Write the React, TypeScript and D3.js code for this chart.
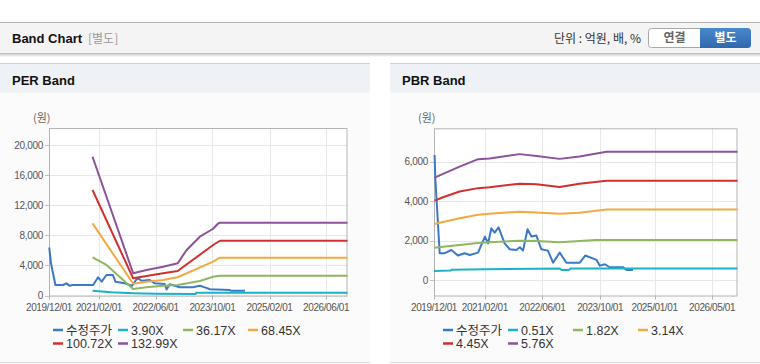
import React from 'react';
import * as d3 from 'd3';

type Pt = [string, number];

const perXTicks = ["2019-12-01", "2021-02-01", "2022-06-01", "2023-10-01", "2025-02-01", "2026-06-01"];
const pbrXTicks = ["2019-12-01", "2021-02-01", "2022-06-01", "2023-10-01", "2025-01-01", "2026-05-01"];
const perYTicks = [0, 4000, 8000, 12000, 16000, 20000];
const pbrYTicks = [0, 2000, 4000, 6000];
const perLegend = ["수정주가", "3.90X", "36.17X", "68.45X", "100.72X", "132.99X"];
const pbrLegend = ["수정주가", "0.51X", "1.82X", "3.14X", "4.45X", "5.76X"];
const seriesColors = ["#3b78c8", "#1cb2c6", "#8fb75e", "#f2a93f", "#d1302c", "#8d529b"];

// PER band chart
const perPrice: Pt[] = [
  ["2019-12-03", 6400], ["2019-12-18", 4300], ["2020-01-25", 1400], ["2020-03-30", 1400],
  ["2020-04-28", 1620], ["2020-05-25", 1310], ["2020-06-20", 1400], ["2020-12-13", 1400],
  ["2021-01-25", 2430], ["2021-02-24", 1840], ["2021-04-06", 2730], ["2021-06-01", 2730],
  ["2021-06-22", 1840], ["2021-09-10", 1620], ["2021-11-12", 1310], ["2021-12-20", 2160],
  ["2022-01-03", 2290], ["2022-02-01", 1970], ["2022-04-12", 2070], ["2022-05-25", 1620],
  ["2022-08-18", 1530], ["2022-09-03", 820], ["2022-10-01", 1490], ["2022-12-25", 1090],
  ["2023-04-15", 1090], ["2023-06-15", 1310], ["2023-07-28", 1090], ["2023-09-10", 830],
  ["2024-02-28", 730], ["2024-03-06", 640], ["2024-07-06", 640],
];
const perBand1: Pt[] = [
  ["2020-12-08", 640], ["2021-05-18", 420], ["2021-11-21", 290], ["2022-06-01", 220],
  ["2023-05-10", 200], ["2023-05-15", 370], ["2026-12-01", 370],
];
const perBand2: Pt[] = [
  ["2020-12-08", 5090], ["2021-04-06", 4070], ["2021-11-21", 870], ["2022-03-15", 1090],
  ["2022-08-04", 1310], ["2022-12-07", 1400], ["2023-06-15", 1930], ["2023-10-07", 2510],
  ["2023-12-04", 2640], ["2026-12-01", 2640],
];
const perBand3: Pt[] = [
  ["2020-12-08", 9620], ["2021-11-21", 1560], ["2022-03-15", 1840], ["2022-08-04", 2070],
  ["2022-12-07", 2430], ["2023-10-07", 4510], ["2023-12-04", 5040], ["2026-12-01", 5040],
];
const perBand4: Pt[] = [
  ["2020-12-08", 14070], ["2021-11-21", 2290], ["2022-03-15", 2600], ["2022-08-04", 2960],
  ["2022-12-07", 3270], ["2023-10-07", 6730], ["2023-12-04", 7300], ["2026-12-01", 7300],
];
const perBand5: Pt[] = [
  ["2020-12-08", 18500], ["2021-11-21", 2960], ["2022-03-15", 3400], ["2022-08-04", 3840],
  ["2022-12-07", 4290], ["2023-02-22", 6070], ["2023-06-15", 7840], ["2023-10-07", 8900],
  ["2023-11-19", 9600], ["2023-12-04", 9700], ["2026-12-01", 9700],
];

// PBR band chart
const pbrPrice: Pt[] = [
  ["2019-12-06", 6340], ["2019-12-12", 5160], ["2020-01-18", 1370], ["2020-03-01", 1370],
  ["2020-04-25", 1530], ["2020-06-20", 1250], ["2020-08-15", 1370], ["2020-09-28", 1280],
  ["2020-12-06", 1400], ["2021-02-02", 2210], ["2021-03-01", 1870], ["2021-03-28", 2630],
  ["2021-04-25", 2410], ["2021-05-28", 2680], ["2021-07-18", 1870], ["2021-08-30", 1570],
  ["2021-10-25", 1530], ["2021-11-23", 1670], ["2021-12-20", 1500], ["2022-01-27", 2580],
  ["2022-03-01", 2210], ["2022-04-12", 2260], ["2022-05-23", 1570], ["2022-07-18", 1500],
  ["2022-08-30", 890], ["2022-10-25", 1400], ["2022-12-20", 890], ["2023-04-12", 890],
  ["2023-05-28", 1250], ["2023-09-01", 1030], ["2023-09-28", 740], ["2023-11-10", 810],
  ["2023-12-20", 660], ["2024-04-12", 660], ["2024-05-10", 520], ["2024-07-03", 520],
];
const pbrBand1: Pt[] = [
  ["2019-12-01", 470], ["2020-04-20", 490], ["2020-04-25", 530], ["2021-02-10", 560],
  ["2022-10-25", 600], ["2022-11-10", 520], ["2023-01-10", 520], ["2023-01-25", 600],
  ["2026-12-01", 600],
];
const pbrBand2: Pt[] = [
  ["2019-12-06", 1650], ["2020-02-15", 1700], ["2020-07-04", 1790], ["2020-12-07", 1880],
  ["2021-03-13", 1920], ["2021-11-22", 2005], ["2022-04-12", 1990], ["2022-10-25", 1920],
  ["2023-04-10", 1990], ["2023-08-25", 2040], ["2026-12-01", 2040],
];
const pbrBand3: Pt[] = [
  ["2019-12-06", 2850], ["2020-02-15", 2950], ["2020-07-04", 3140], ["2020-12-07", 3310],
  ["2021-03-13", 3360], ["2021-11-22", 3470], ["2022-04-12", 3430], ["2022-10-25", 3360],
  ["2023-04-10", 3410], ["2023-11-24", 3580], ["2026-12-01", 3580],
];
const pbrBand4: Pt[] = [
  ["2019-12-06", 4030], ["2020-02-15", 4200], ["2020-07-04", 4490], ["2020-12-07", 4660],
  ["2021-03-13", 4710], ["2021-11-22", 4880], ["2022-04-12", 4860], ["2022-10-25", 4720],
  ["2023-04-10", 4880], ["2023-11-24", 5030], ["2026-12-01", 5030],
];
const pbrBand5: Pt[] = [
  ["2019-12-06", 5195], ["2020-02-15", 5380], ["2020-07-04", 5750], ["2020-12-07", 6125],
  ["2021-03-13", 6160], ["2021-11-22", 6380], ["2022-04-12", 6290], ["2022-10-25", 6140],
  ["2023-04-10", 6260], ["2023-11-24", 6500], ["2026-12-01", 6500],
];

const X_START = "2019-12-01";
const X_END = "2026-12-01";

const FONT = '"Liberation Sans", Arial, "Noto Sans CJK KR", sans-serif';
const KFONT = '"Noto Sans CJK KR", "Liberation Sans", sans-serif';

const parse = (s: string) => new Date(s + "T00:00:00Z");

interface PanelProps {
  px: number;
  title: string;
  plot: { l: number; r: number; t: number; b: number };
  yDomain: [number, number];
  yTicks: number[];
  xTicks: string[];
  series: Pt[][];
  legend: string[];
  legendX0: number;
}

function Panel({ px, title, plot, yDomain, yTicks, xTicks, series, legend, legendX0 }: PanelProps) {
  const x = d3.scaleUtc().domain([parse(X_START), parse(X_END)]).range([plot.l, plot.r]);
  const y = d3.scaleLinear().domain(yDomain).range([plot.b, plot.t]);
  const line = d3
    .line<Pt>()
    .x((d) => x(parse(d[0])))
    .y((d) => y(d[1]));
  const fmt = d3.format(",");
  const legendPos = [
    [0, 0], [65, 0], [130, 0], [195, 0], [0, 1], [65, 1],
  ];
  return (
    <g>
      {/* panel */}
      <rect x={px} y={64} width={370} height={298} fill="#fbfbfb" />
      <rect x={px} y={64} width={370} height={28.5} fill="#eef1f6" />
      <line x1={px} x2={px + 370} y1={63.5} y2={63.5} stroke="#cfd2d6" />
      <line x1={px} x2={px + 370} y1={362.5} y2={362.5} stroke="#d8d8d8" />
      <text x={px + 12} y={85} fontFamily={FONT} fontSize={13} fontWeight="bold" fill="#111">
        {title}
      </text>
      <text x={plot.l - 16} y={122} fontFamily={KFONT} fontSize={11} fill="#666">
        (원)
      </text>
      {/* plot */}
      <rect x={plot.l} y={plot.t} width={plot.r - plot.l} height={plot.b - plot.t} fill="#ffffff" />
      {yTicks.map((t) => (
        <line key={"gy" + t} x1={plot.l} x2={plot.r} y1={Math.round(y(t)) + 0.5} y2={Math.round(y(t)) + 0.5} stroke="#e8e8e8" />
      ))}
      {xTicks.map((t) => (
        <line key={"gx" + t} x1={Math.round(x(parse(t))) + 0.5} x2={Math.round(x(parse(t))) + 0.5} y1={plot.t} y2={plot.b} stroke="#e8e8e8" />
      ))}
      <rect x={plot.l + 0.5} y={plot.t + 0.5} width={plot.r - plot.l - 1} height={plot.b - plot.t} fill="none" stroke="#b4b4b4" />
      {yTicks.map((t) => (
        <g key={"ty" + t}>
          <line x1={plot.l - 4} x2={plot.l} y1={Math.round(y(t)) + 0.5} y2={Math.round(y(t)) + 0.5} stroke="#c4c4c4" />
          <text x={plot.l - 6} y={y(t) + 3.5} textAnchor="end" fontFamily={FONT} fontSize={10} letterSpacing={-0.3} fill="#555">
            {fmt(t)}
          </text>
        </g>
      ))}
      {xTicks.map((t) => (
        <g key={"tx" + t}>
          <line x1={Math.round(x(parse(t))) + 0.5} x2={Math.round(x(parse(t))) + 0.5} y1={plot.b} y2={plot.b + 4} stroke="#b4b4b4" />
          <text x={x(parse(t))} y={plot.b + 15} textAnchor="middle" fontFamily={FONT} fontSize={10} letterSpacing={-0.4} fill="#555">
            {t.replace(/-/g, "/")}
          </text>
        </g>
      ))}
      {series.map((s, i) => (
        <path key={"s" + i} d={line(s) || ""} fill="none" stroke={seriesColors[i]} strokeWidth={2} strokeLinejoin="round" />
      ))}
      {/* legend */}
      {legend.map((name, i) => {
        const lx = legendX0 + legendPos[i][0];
        const ly = 330 + legendPos[i][1] * 13.5;
        return (
          <g key={"lg" + i}>
            <line x1={lx} x2={lx + 10} y1={ly} y2={ly} stroke={seriesColors[i]} strokeWidth={2.5} />
            <text x={lx + 13} y={ly + 4.5} fontFamily={FONT} fontSize={12.5} fill="#333">
              {name}
            </text>
          </g>
        );
      })}
    </g>
  );
}

export default function App() {
  return (
    <svg
      width={760}
      height={364}
      viewBox="0 0 760 364"
      style={{ position: "absolute", left: 0, top: 0, background: "#ffffff" }}
    >
      <defs>
        <linearGradient id="blueBtn" x1="0" y1="0" x2="0" y2="1">
          <stop offset="0" stopColor="#4a88cc" />
          <stop offset="1" stopColor="#2f69ad" />
        </linearGradient>
        <linearGradient id="hdrShadow" x1="0" y1="0" x2="0" y2="1">
          <stop offset="0" stopColor="#d0d0d0" />
          <stop offset="1" stopColor="#ffffff" />
        </linearGradient>
      </defs>
      {/* header */}
      <rect x={0} y={22} width={760} height={31} fill="#f4f4f4" />
      <line x1={0} x2={760} y1={22.5} y2={22.5} stroke="#b4b4b4" />
      <line x1={0} x2={760} y1={53.5} y2={53.5} stroke="#c0c0c0" />
      <rect x={0} y={54} width={760} height={3} fill="url(#hdrShadow)" />
      <text x={12} y={43} fontFamily={FONT} fontSize={13} fontWeight="bold" fill="#111">
        Band Chart
      </text>
      <text x={88} y={43} fontFamily={KFONT} fontSize={12} fill="#999">
        [별도]
      </text>
      <text x={641} y={43} textAnchor="end" fontFamily={KFONT} fontSize={12} fill="#333">
        단위 : 억원, 배, %
      </text>
      <path d="M700.5,28.5 H651.5 Q648.5,28.5 648.5,31.5 V44.5 Q648.5,47.5 651.5,47.5 H700.5 Z" fill="#ffffff" stroke="#a9a9a9" />
      <path d="M700,28 H747.5 Q751,28 751,31.5 V44.5 Q751,48 747.5,48 H700 Z" fill="url(#blueBtn)" />
      <text x={674.5} y={42} textAnchor="middle" fontFamily={KFONT} fontSize={12} fontWeight="bold" fill="#666">
        연결
      </text>
      <text x={725.5} y={42} textAnchor="middle" fontFamily={KFONT} fontSize={12} fontWeight="bold" fill="#ffffff">
        별도
      </text>
      <Panel
        px={0}
        title="PER Band"
        plot={{ l: 49, r: 347.5, t: 128, b: 295.5 }}
        yDomain={[0, 22333]}
        yTicks={perYTicks}
        xTicks={perXTicks}
        series={[perPrice, perBand1, perBand2, perBand3, perBand4, perBand5]}
        legend={perLegend}
        legendX0={53}
      />
      <Panel
        px={390}
        title="PBR Band"
        plot={{ l: 434, r: 737.5, t: 128.3, b: 295.5 }}
        yDomain={[-770, 7686]}
        yTicks={pbrYTicks}
        xTicks={pbrXTicks}
        series={[pbrPrice, pbrBand1, pbrBand2, pbrBand3, pbrBand4, pbrBand5]}
        legend={pbrLegend}
        legendX0={443}
      />
    </svg>
  );
}
